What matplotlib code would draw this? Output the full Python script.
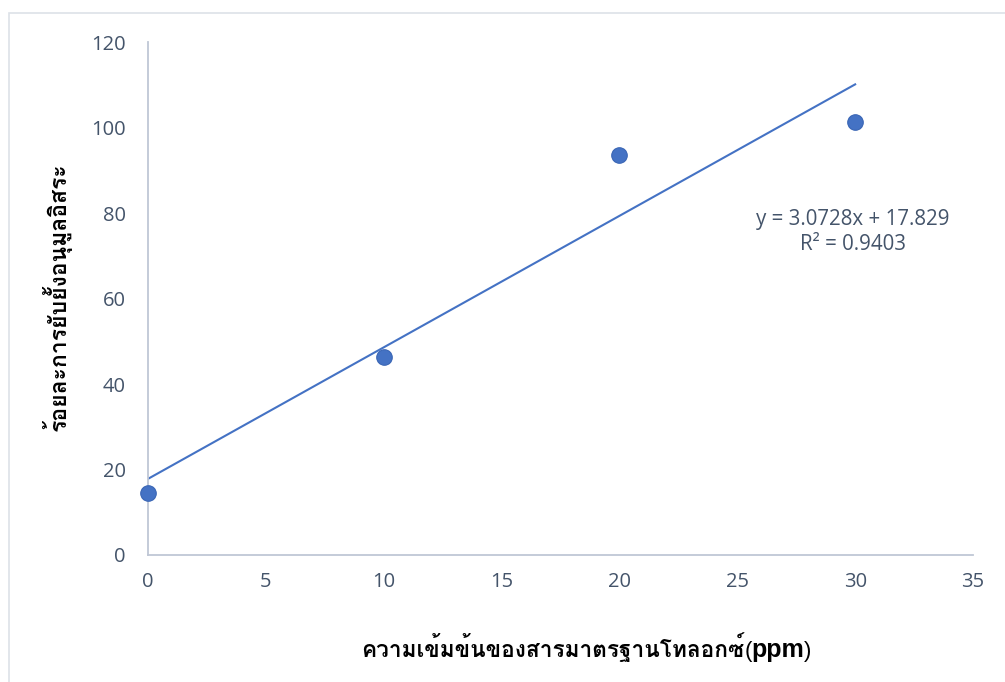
import matplotlib
matplotlib.use("Agg")
import matplotlib.pyplot as plt
import numpy as np
from matplotlib import font_manager
from matplotlib.patches import Rectangle

# ข้อมูลจากกราฟ
conc = [0, 10, 20, 30]                 # ppm
inhibition = [14.5, 46.4, 93.6, 101.3]  # ร้อยละการยับยั้ง

x_ticks = [0, 5, 10, 15, 20, 25, 30, 35]
y_ticks = [0, 20, 40, 60, 80, 100, 120]

x_label = "ความเข้มข้นของสารมาตรฐานโทลอกซ์"
y_label = "ร้อยละการยับยั้งอนุมูลอิสระ"
eq_text = "y = 3.0728x + 17.829\nR² = 0.9403"

BLUE = "#4472C4"
TICK_COLOR = "#44546A"
AXIS_COLOR = "#BFC7D5"
W, H = 1005, 682


def find_thai_font():
    """หาฟอนต์ที่มีอักษรไทย"""
    found = []
    for f in font_manager.fontManager.ttflist:
        try:
            ft = font_manager.get_font(f.fname)
            if ft.get_char_index(0x0E04) and ft.get_char_index(0x0E49):
                found.append(f.name)
        except Exception:
            pass
    return found


thai = find_thai_font()
thai_family = [thai[0]] if thai else []
num_font = "Open Sans"

fig = plt.figure(figsize=(W / 100, H / 100), dpi=100)
fig.patch.set_facecolor("white")

# กรอบนอกของแผนภูมิ
fig.patches.append(Rectangle((9 / W, -0.01), 1.05, 1 - 13 / H + 0.01,
                             transform=fig.transFigure, fill=False,
                             edgecolor="#DDE2E8", linewidth=1.2))

ax = fig.add_axes([148 / W, 1 - 555 / H, 825 / W, 513 / H])

ax.scatter(conc, inhibition, s=125, color=BLUE, edgecolor="#3A66B5",
           linewidth=0.8, zorder=3, clip_on=False)

# เส้นแนวโน้มเชิงเส้น
m, c = np.polyfit(conc, inhibition, 1)
xs = np.array([min(conc), max(conc)])
ax.plot(xs, m * xs + c, color=BLUE, linewidth=1.5, zorder=2)

ax.set_xlim(0, 35)
ax.set_ylim(0, 120)
ax.set_xticks(x_ticks)
ax.set_yticks(y_ticks)
ax.tick_params(length=0, labelsize=14.5, colors=TICK_COLOR)
ax.tick_params(axis="x", pad=12)
ax.tick_params(axis="y", pad=16)
for lab in ax.get_xticklabels() + ax.get_yticklabels():
    lab.set_fontfamily(num_font)

for s in ["top", "right"]:
    ax.spines[s].set_visible(False)
for s in ["left", "bottom"]:
    ax.spines[s].set_color(AXIS_COLOR)
    ax.spines[s].set_linewidth(1.3)

ax.text(853 / W, 1 - 232 / H, eq_text, transform=fig.transFigure,
        ha="center", va="center", fontsize=14.8, color=TICK_COLOR,
        family=num_font, linespacing=1.3)

# ป้ายแกน x (ไทย + ppm) วางต่อกันทีละส่วน
renderer = fig.canvas.get_renderer()
base_y = 1 - 657 / H
parts = [
    (x_label, dict(fontsize=16.3, fontweight="bold", family=thai_family + ["DejaVu Sans"])),
    ("(", dict(fontsize=16, family=["Liberation Sans"])),
    ("ppm", dict(fontsize=18, fontweight="bold", family=["Liberation Sans"])),
    (")", dict(fontsize=16, family=["Liberation Sans"])),
]
x_px = 361
for txt, kw in parts:
    t = fig.text(x_px / W, base_y, txt, ha="left", va="baseline", color="black", **kw)
    x_px += t.get_window_extent(renderer).width

# ป้ายแกน y
fig.text(57 / W, 1 - 297 / H, y_label, ha="center", va="center",
         rotation=90, fontsize=16.5, fontweight="bold",
         family=thai_family + ["DejaVu Sans"], color="black")

if not thai:
    fig.text(0.5, 0.5, "NO THAI FONT", color="red", fontsize=20)

fig.savefig("out.png", dpi=100, facecolor="white")
